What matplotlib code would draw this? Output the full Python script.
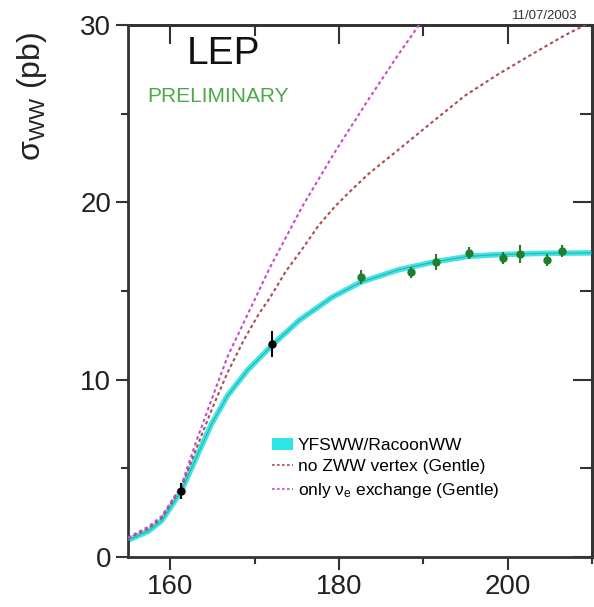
import matplotlib
matplotlib.use("Agg")
import matplotlib.pyplot as plt
from matplotlib.patches import Patch
from matplotlib.lines import Line2D

plt.rcParams['font.family'] = ['Liberation Sans', 'DejaVu Sans']
plt.rcParams['mathtext.fontset'] = 'custom'
plt.rcParams['mathtext.rm'] = 'Liberation Sans'
plt.rcParams['mathtext.it'] = 'Liberation Sans:italic'

# ---- data ----
# YFSWW/RacoonWW prediction
yfs_x = [155.0, 157.4, 159.0, 161.3, 162.9, 164.9, 166.8, 169.2, 172.1, 175.3,
         179.2, 182.6, 187.1, 191.4, 195.3, 198.8, 204.0, 210.0]
yfs_y = [0.95, 1.45, 2.05, 3.7, 5.4, 7.5, 9.1, 10.55, 11.95, 13.35,
         14.65, 15.5, 16.2, 16.65, 16.95, 17.05, 17.12, 17.15]
# no ZWW vertex (Gentle)
nozww_x = [155.0, 157.4, 159.0, 161.3, 163.0, 165.0, 166.8, 168.8, 170.5, 171.8,
           173.7, 175.7, 177.6, 179.6, 181.5, 183.5, 187.4, 191.0, 194.9, 198.8,
           202.7, 206.7, 210.0]
nozww_y = [1.05, 1.6, 2.2, 3.9, 6.0, 8.4, 10.4, 12.3, 13.7, 14.6,
           16.1, 17.4, 18.7, 19.8, 20.7, 21.6, 23.1, 24.5, 26.0, 27.2,
           28.3, 29.4, 30.2]
# only nu_e exchange (Gentle)
nue_x = [155.0, 157.4, 159.0, 161.3, 163.0, 165.0, 166.8, 168.8, 171.8, 175.7,
         179.6, 183.5, 187.0, 189.5, 190.5]
nue_y = [1.1, 1.7, 2.3, 4.0, 6.4, 9.0, 11.3, 13.3, 16.3, 19.8,
         22.9, 25.8, 28.3, 30.0, 30.6]
# LEP data points
blk_x = [161.3, 172.1]
blk_y = [3.7, 12.0]
blk_err = [0.45, 0.75]
grn_x = [182.6, 188.5, 191.5, 195.4, 199.4, 201.5, 204.7, 206.5]
grn_y = [15.8, 16.05, 16.65, 17.15, 16.85, 17.1, 16.75, 17.25]
grn_err = [0.4, 0.3, 0.45, 0.35, 0.35, 0.5, 0.35, 0.35]

xticks_major = [160, 180, 200]
xticks_minor = [170, 190, 210]
yticks_major = [0, 10, 20, 30]
yticks_minor = [5, 15, 25]

fig = plt.figure(figsize=(5.94, 6.07), dpi=100)
ax = fig.add_axes([0.2155, 0.0824, 0.7811, 0.8764])

ax.plot(yfs_x, yfs_y, color='#45e3e3', lw=4.0, solid_capstyle='butt',
        solid_joinstyle='round', zorder=2)
ax.plot(yfs_x, yfs_y, color='#22b5b5', lw=0.8, solid_joinstyle='round', zorder=3)
ax.plot(nozww_x, nozww_y, color='#a85050', lw=1.5, dashes=(1.6, 1.4),
        dash_joinstyle='round', zorder=4)
ax.plot(nue_x, nue_y, color='#c84cc8', lw=1.5, dashes=(1.6, 1.4),
        dash_joinstyle='round', zorder=4)

ax.errorbar(blk_x, blk_y, yerr=blk_err, fmt='o', color='black', ms=5,
            elinewidth=1.5, capsize=0, zorder=6)
ax.errorbar(grn_x, grn_y, yerr=grn_err, fmt='o', color='#1f7f2a', ms=5,
            elinewidth=1.5, capsize=0, zorder=6)

ax.set_xlim(155, 210)
ax.set_ylim(0, 30)
ax.set_xticks(xticks_major)
ax.set_xticks(xticks_minor, minor=True)
ax.set_yticks(yticks_major)
ax.set_yticks(yticks_minor, minor=True)
ax.tick_params(axis='both', which='major', direction='out', length=9, width=1.5,
               labelsize=20, color='#333333', labelcolor='#222222', pad=3)
ax.tick_params(axis='both', which='minor', direction='out', length=5, width=1.5,
               color='#333333')
for s in ax.spines.values():
    s.set_linewidth(2)
    s.set_color('#333333')

top = ax.secondary_xaxis('top')
top.set_xticks(xticks_major)
top.set_xticks(xticks_minor, minor=True)
top.tick_params(which='major', direction='in', length=14, width=1.5, color='#333333',
                labeltop=False)
top.tick_params(which='minor', direction='in', length=8, width=1.5, color='#333333')
top.spines['top'].set_linewidth(2)
top.spines['top'].set_color('#333333')
right = ax.secondary_yaxis('right')
right.set_yticks(yticks_major)
right.set_yticks(yticks_minor, minor=True)
right.tick_params(which='major', direction='in', length=14, width=1.5, color='#333333',
                  labelright=False)
right.tick_params(which='minor', direction='in', length=9, width=1.5, color='#333333')
right.spines['right'].set_linewidth(2)
right.spines['right'].set_color('#333333')

ax.set_ylabel(r'σ$_{\rm WW}$ (pb)', fontsize=23, color='#222222')
ax.yaxis.set_label_coords(-0.17, 0.865)

ax.text(0.205, 0.945, 'LEP', transform=ax.transAxes, fontsize=28,
        ha='center', va='center', color='#111111')
ax.text(0.194, 0.866, 'PRELIMINARY', transform=ax.transAxes, fontsize=15,
        ha='center', va='center', color='#4aaa4a')
fig.text(0.9175, 0.974, '11/07/2003', fontsize=9.5, ha='center', va='center',
         color='#333333')

handles = [Patch(facecolor='#2ee6e6', edgecolor='none'),
           Line2D([], [], color='#a85050', lw=1.2, dashes=(1.6, 1.4)),
           Line2D([], [], color='#c84cc8', lw=1.2, dashes=(1.6, 1.4))]
labels = ['YFSWW/RacoonWW', 'no ZWW vertex (Gentle)',
          r'only ν$_{\rm e}$ exchange (Gentle)']
ax.legend(handles, labels, loc='upper left', bbox_to_anchor=(0.31, 0.224),
          frameon=False, fontsize=12.5, handlelength=1.2, handleheight=0.7,
          handletextpad=0.3, labelspacing=0.36, borderaxespad=0, borderpad=0)

fig.savefig('out.png', dpi=100)
